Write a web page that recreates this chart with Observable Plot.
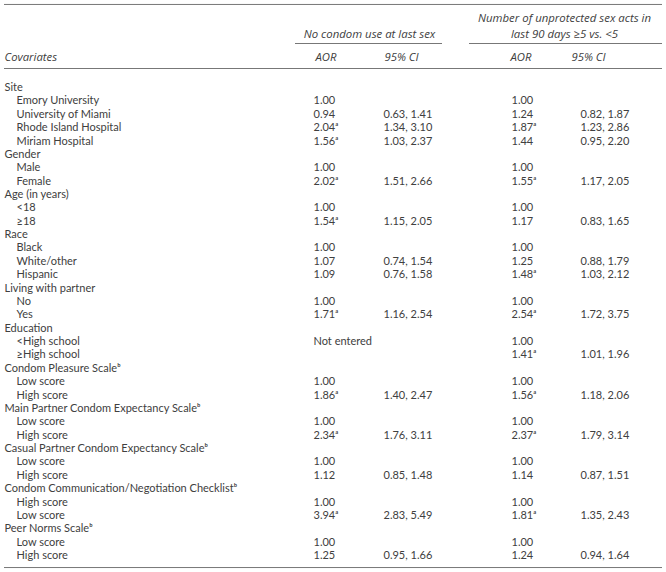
<!DOCTYPE html>
<html><head><meta charset="utf-8">
<script src="https://cdn.jsdelivr.net/npm/d3@7"></script>
<script src="https://cdn.jsdelivr.net/npm/@observablehq/plot@0.6"></script>
<style>body{margin:0;background:#fff} svg{display:block}</style>
</head><body><div id="chart"></div>
<script>
// ---- data ----
const covariates = ["Site","Emory University","University of Miami","Rhode Island Hospital","Miriam Hospital",
  "Gender","Male","Female",
  "Age (in years)","<18","≥18",
  "Race","Black","White/other","Hispanic",
  "Living with partner","No","Yes",
  "Education","<High school","≥High school",
  "Condom Pleasure Scaleᵇ","Low score","High score",
  "Main Partner Condom Expectancy Scaleᵇ","Low score","High score",
  "Casual Partner Condom Expectancy Scaleᵇ","Low score","High score",
  "Condom Communication/Negotiation Checklistᵇ","High score","Low score",
  "Peer Norms Scaleᵇ","Low score","High score"];
const isGroup = [1,0,0,0,0, 1,0,0, 1,0,0, 1,0,0,0, 1,0,0, 1,0,0, 1,0,0, 1,0,0, 1,0,0, 1,0,0, 1,0,0];
const aorNoCondom = ["","1.00","0.94","2.04ᵃ","1.56ᵃ", "","1.00","2.02ᵃ", "","1.00","1.54ᵃ", "","1.00","1.07","1.09",
  "","1.00","1.71ᵃ", "","Not entered","", "","1.00","1.86ᵃ", "","1.00","2.34ᵃ", "","1.00","1.12", "","1.00","3.94ᵃ", "","1.00","1.25"];
const ciNoCondom = ["","","0.63, 1.41","1.34, 3.10","1.03, 2.37", "","","1.51, 2.66", "","","1.15, 2.05", "","","0.74, 1.54","0.76, 1.58",
  "","","1.16, 2.54", "","","", "","","1.40, 2.47", "","","1.76, 3.11", "","","0.85, 1.48", "","","2.83, 5.49", "","","0.95, 1.66"];
const aorUnprotected = ["","1.00","1.24","1.87ᵃ","1.44", "","1.00","1.55ᵃ", "","1.00","1.17", "","1.00","1.25","1.48ᵃ",
  "","1.00","2.54ᵃ", "","1.00","1.41ᵃ", "","1.00","1.56ᵃ", "","1.00","2.37ᵃ", "","1.00","1.14", "","1.00","1.81ᵃ", "","1.00","1.24"];
const ciUnprotected = ["","","0.82, 1.87","1.23, 2.86","0.95, 2.20", "","","1.17, 2.05", "","","0.83, 1.65", "","","0.88, 1.79","1.03, 2.12",
  "","","1.72, 3.75", "","","1.01, 1.96", "","","1.18, 2.06", "","","1.79, 3.14", "","","0.87, 1.51", "","","1.35, 2.43", "","","0.94, 1.64"];
const groupHeaders = ["No condom use at last sex", "Number of unprotected sex acts in\nlast 90 days ≥5 vs. <5"];
const columnHeaders = ["Covariates","AOR","95% CI","AOR","95% CI"];

// ---- layout (styles / positions) ----
const colX = {label: 4, aor1: 313, ci1: 383, aor2: 511, ci2: 580};
const indent = 12;
const font = "Lato, 'Open Sans', 'DejaVu Sans', sans-serif";
const headFont = "'Open Sans', Lato, 'DejaVu Sans', sans-serif";
const ink = "#404040";

const cells = [];
covariates.forEach((c, i) => {
  cells.push({row: i, x: colX.label + (isGroup[i] ? 0 : indent), text: c});
  cells.push({row: i, x: colX.aor1, text: aorNoCondom[i]});
  cells.push({row: i, x: colX.ci1, text: ciNoCondom[i]});
  cells.push({row: i, x: colX.aor2, text: aorUnprotected[i]});
  cells.push({row: i, x: colX.ci2, text: ciUnprotected[i]});
});
const headerCells = columnHeaders.map((t, j) => ({row: -2.24, x: [4, 315, 384, 510, 571][j], text: t}));
const [g2a, g2b] = groupHeaders[1].split("\n");
const groupCells = [
  {row: -3.98, x: 369, text: groupHeaders[0]},
  {row: -5.18, x: 564, text: g2a},
  {row: -3.98, x: 564, text: g2b}
];
const rules = [
  {row: -6.21, x1: 4, x2: 662},
  {row: -3.29, x1: 295, x2: 442},
  {row: -3.29, x1: 469, x2: 662},
  {row: -1.42, x1: 4, x2: 662},
  {row: 35.9, x1: 4, x2: 662}
];

const chart = Plot.plot({
  width: 666, height: 572,
  margin: 0,
  x: {type: "linear", domain: [0, 666], range: [0, 666], axis: null},
  y: {type: "linear", domain: [0, 35], range: [87, 555], axis: null},
  style: {background: "#fff"},
  marks: [
    Plot.ruleY(rules, {y: "row", x1: "x1", x2: "x2", stroke: "#777", strokeWidth: 1}),
    Plot.text(cells.filter(d => d.text), {x: "x", y: "row", text: "text", textAnchor: "start", lineAnchor: "middle",
      fontSize: 11, fontFamily: font, fill: ink}),
    Plot.text(headerCells, {x: "x", y: "row", text: "text", textAnchor: "start", lineAnchor: "middle",
      fontSize: 11.3, fontFamily: headFont, fontStyle: "italic", fill: ink}),
    Plot.text(groupCells, {x: "x", y: "row", text: "text", textAnchor: "middle", lineAnchor: "middle",
      fontSize: 11.4, fontFamily: headFont, fontStyle: "italic", fill: ink})
  ]
});
document.getElementById("chart").appendChild(chart);
</script>
</body></html>
